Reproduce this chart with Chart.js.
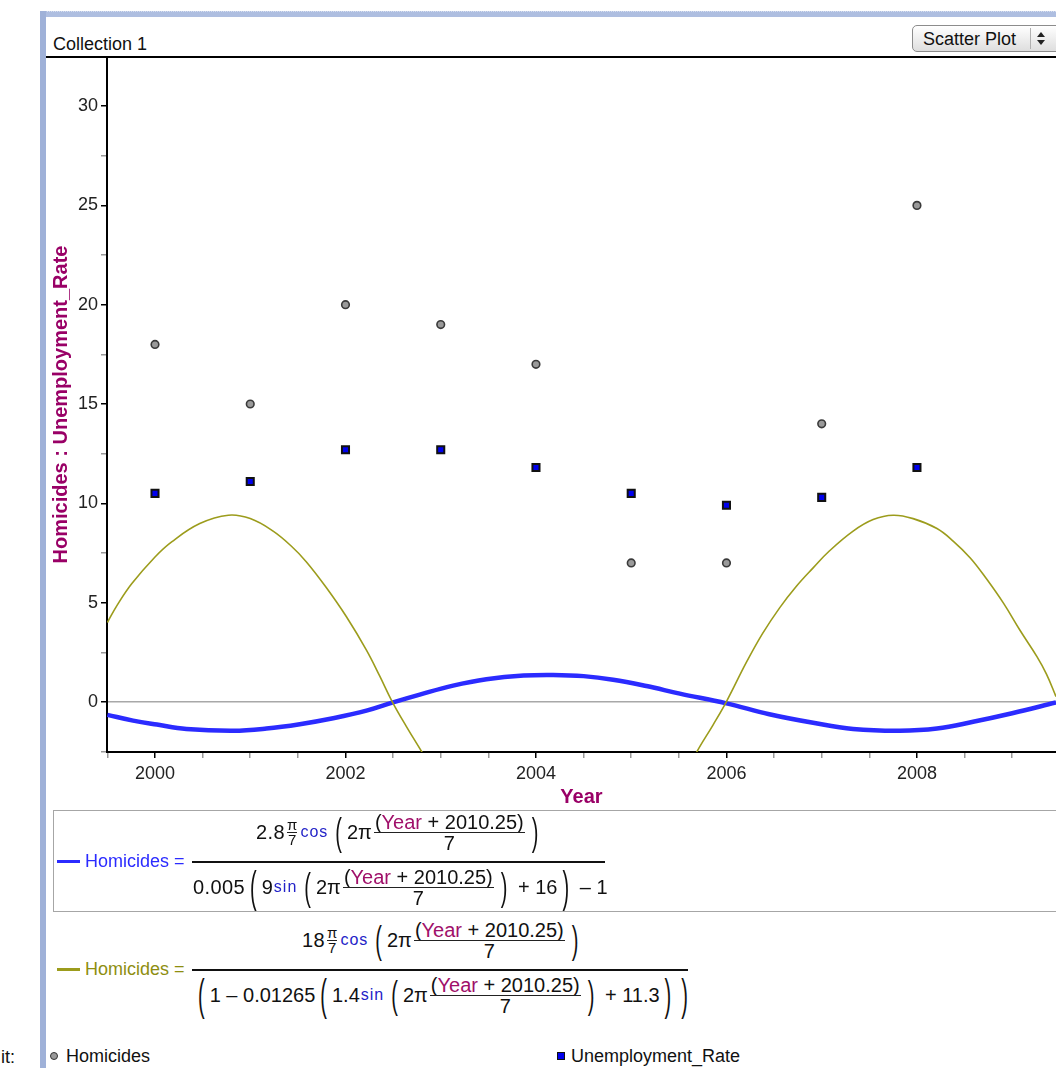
<!DOCTYPE html>
<html>
<head>
<meta charset="utf-8">
<script src="https://cdn.jsdelivr.net/npm/chart.js@4.4.1/dist/chart.umd.min.js"></script>
<style>
  body { margin:0; width:1056px; height:1068px; overflow:hidden; background:#fff;
         font-family:'Liberation Sans', Arial, sans-serif; color:#111; position:relative; }
  .abs { position:absolute; white-space:nowrap; }
  #bandTop { left:40px; top:11px; width:1016px; height:6px; background:#aebee0;
             border-top:1px dotted #d6def0; box-sizing:border-box; }
  #bandLeft { left:40px; top:11px; width:6px; height:1057px; background:#9fb1d8; }
  #title { left:53px; top:34px; font-size:18px; }
  #rule { left:46px; top:56px; width:1010px; height:2px; background:#000; }
  #menu { left:912px; top:25px; width:160px; height:27px; border:1px solid #8c8c8c; border-radius:5px;
          background:linear-gradient(#ffffff, #dedede); box-sizing:border-box; font-size:18px; }
  #menu .lbl { position:absolute; left:10px; top:3px; }
  #menu .sep { position:absolute; left:117px; top:2px; width:1px; height:21px; background:#b0b0b0; }
  #menu .up, #menu .dn { position:absolute; left:124px; width:0; height:0;
                         border-left:4px solid transparent; border-right:4px solid transparent; }
  #menu .up { top:6px; border-bottom:5px solid #222; }
  #menu .dn { top:14px; border-top:5px solid #222; }
  #wrap { left:46px; top:57px; width:1010px; height:760px; }
  #eqbox { left:53px; top:810px; width:1010px; height:102px; border:1px solid #a6a6a6; box-sizing:border-box; }
  .sw { position:absolute; width:23px; height:3px; }
  .lhs { font-size:18px; }
  .bar { position:absolute; height:1.5px; background:#111; }
  .row { position:absolute; display:flex; align-items:center; height:50px; font-size:20px; white-space:nowrap; }
  .num { letter-spacing:0.4px; }
  .f { display:inline-flex; flex-direction:column; align-items:stretch; margin:0 2px; }
  .f > span { display:block; text-align:center; line-height:20px; padding:0 1px; }
  .f > .b { border-top:1.5px solid #222; }
  .f.s { font-size:15px; margin:0 2px 0 2px; }
  .f.s > span { line-height:14px; padding:0; }
  .f.s > .b { border-top:1px solid #222; }
  .fn { color:#2323c8; font-size:16px; letter-spacing:1px; margin:0 2px 0 1px; }
  .yr { color:#a0106a; }
  .bp { display:inline-block; transform:scaleY(1.9); margin:0 5px; font-weight:300; }
  .bp.w { transform:scaleY(2.25); }
  .legend { font-size:18px; }
  .dot { position:absolute; width:6px; height:6px; border-radius:50%; background:#9a9a9a; border:1px solid #333; }
  .sq { position:absolute; width:6px; height:6px; background:#0000ee; border:1px solid #111; }
</style>
</head>
<body>
<div class="abs" id="bandTop"></div>
<div class="abs" id="bandLeft"></div>
<div class="abs" id="title">Collection 1</div>
<div class="abs" id="menu"><span class="lbl">Scatter Plot</span><span class="sep"></span><span class="up"></span><span class="dn"></span></div>
<div class="abs" id="rule"></div>
<div class="abs" id="wrap"><canvas id="chart" width="1010" height="760"></canvas></div>

<div class="abs" id="eqbox"></div>

<!-- equation 1 -->
<div class="sw" style="left:57px;top:860px;background:#2b2bff"></div>
<div class="abs lhs" style="left:85px;top:851px;color:#2b2bff">Homicides =</div>
<div class="bar" style="left:192px;top:861px;width:413px"></div>
<div class="row" style="left:256px;top:807px">
  <span class="num">2.8</span>
  <span class="f s"><span>π</span><span class="b">7</span></span>
  <span class="fn">cos</span>
  <span class="bp">(</span>2π<span class="f"><span>(<span class="yr">Year</span> + 2010.25)</span><span class="b">7</span></span><span class="bp">)</span>
</div>
<div class="row" style="left:193px;top:862px">
  <span class="num">0.005</span>
  <span class="bp w">(</span>9<span class="fn">sin</span>
  <span class="bp">(</span>2π<span class="f"><span>(<span class="yr">Year</span> + 2010.25)</span><span class="b">7</span></span><span class="bp">)</span>
  &nbsp;+ 16<span class="bp w">)</span>&nbsp;– 1
</div>

<!-- equation 2 -->
<div class="sw" style="left:57px;top:968px;background:#9c9c1c"></div>
<div class="abs lhs" style="left:85px;top:959px;color:#8e8e10">Homicides =</div>
<div class="bar" style="left:192px;top:969px;width:496px"></div>
<div class="row" style="left:302px;top:915px">
  <span class="num">18</span>
  <span class="f s"><span>π</span><span class="b">7</span></span>
  <span class="fn">cos</span>
  <span class="bp">(</span>2π<span class="f"><span>(<span class="yr">Year</span> + 2010.25)</span><span class="b">7</span></span><span class="bp">)</span>
</div>
<div class="row" style="left:193px;top:970px">
  <span class="bp w">(</span>1 – 0.01265<span class="bp w">(</span>1.4<span class="fn">sin</span>
  <span class="bp">(</span>2π<span class="f"><span>(<span class="yr">Year</span> + 2010.25)</span><span class="b">7</span></span><span class="bp">)</span>
  &nbsp;+ 11.3<span class="bp w">)</span><span class="bp w">)</span>
</div>

<!-- legend -->
<div class="dot" style="left:50px;top:1052px"></div>
<div class="abs legend" style="left:66px;top:1046px">Homicides</div>
<div class="sq" style="left:557px;top:1052px"></div>
<div class="abs legend" style="left:571px;top:1046px">Unemployment_Rate</div>
<div class="abs legend" style="left:1px;top:1047px">it:</div>

<script>
// values
const years = [2000, 2001, 2002, 2003, 2004, 2005, 2006, 2007, 2008];
const homicides = [18, 15, 20, 19, 17, 7, 7, 14, 25];
const unemploymentRate = [10.5, 11.1, 12.7, 12.7, 11.8, 10.5, 9.9, 10.3, 11.8];

// blue fitted curve (thick)
const blueYear = [1999.5, 1999.77, 2000.02, 2000.33, 2000.82, 2001.17, 2001.52, 2001.87, 2002.22, 2002.5,
                  2002.78, 2003.13, 2003.48, 2003.87, 2004.18, 2004.5, 2004.81, 2005.16, 2005.51, 2006.0,
                  2006.45, 2006.91, 2007.33, 2007.82, 2008.21, 2008.59, 2009.0, 2009.46];
const blueVal = [-0.65, -0.94, -1.14, -1.36, -1.45, -1.34, -1.12, -0.82, -0.44, -0.02,
                 0.37, 0.82, 1.14, 1.33, 1.36, 1.3, 1.12, 0.8, 0.42, -0.07,
                 -0.62, -1.05, -1.36, -1.45, -1.34, -1.0, -0.57, -0.03];

// olive fitted curve (thin), null = gap where it leaves the plot
const oliveYear = [1999.5, 1999.6, 1999.755, 2000.0, 2000.175, 2000.47, 2000.77, 2001.0, 2001.24, 2001.43,
                   2001.59, 2001.8, 2002.01, 2002.22, 2002.36, 2002.49, 2002.64, 2002.8, 2002.9, 2004.25,
                   2005.6, 2005.69, 2005.86, 2006.0, 2006.21, 2006.38, 2006.56, 2006.73, 2006.91, 2007.08,
                   2007.33, 2007.54, 2007.75, 2007.96, 2008.21, 2008.38, 2008.56, 2008.73, 2008.91, 2009.08,
                   2009.26, 2009.36, 2009.46];
const oliveVal = [4.0, 4.85, 5.95, 7.3, 8.06, 8.98, 9.4, 9.23, 8.6, 7.85,
                  7.05, 5.75, 4.29, 2.61, 1.3, 0.02, -1.24, -2.5, -3.3, null,
                  -3.4, -2.5, -1.15, 0.02, 2.0, 3.45, 4.75, 5.8, 6.75, 7.6,
                  8.6, 9.18, 9.4, 9.23, 8.73, 8.1, 7.25, 6.2, 4.96, 3.62,
                  2.28, 1.4, 0.27];

const xTicks = [1999.5, 2000, 2000.5, 2001, 2001.5, 2002, 2002.5, 2003, 2003.5, 2004,
                2004.5, 2005, 2005.5, 2006, 2006.5, 2007, 2007.5, 2008, 2008.5, 2009];
const xLabels = [2000, 2002, 2004, 2006, 2008];
const yTicks = [-2.5, 0, 2.5, 5, 7.5, 10, 12.5, 15, 17.5, 20, 22.5, 25, 27.5, 30];
const yLabels = [0, 5, 10, 15, 20, 25, 30];

const pts = (xs, ys) => xs.map((x, i) => ({ x, y: ys[i] }));
const purple = '#990066';

Chart.defaults.font.family = "'Liberation Sans', Arial, sans-serif";

new Chart(document.getElementById('chart'), {
  type: 'scatter',
  data: {
    datasets: [
      { label: 'Homicides', data: pts(years, homicides), pointStyle: 'circle', pointRadius: 3.8,
        backgroundColor: '#9a9a9a', borderColor: '#3a3a3a', borderWidth: 1.6, order: 0 },
      { label: 'Unemployment_Rate', data: pts(years, unemploymentRate), pointStyle: 'rect', pointRadius: 5,
        backgroundColor: '#0000ee', borderColor: '#111', borderWidth: 2, order: 0 },
      { label: 'olive', data: pts(oliveYear, oliveVal), showLine: true, pointRadius: 0, spanGaps: false,
        borderColor: '#9c9c1c', borderWidth: 1.6, tension: 0.4, order: 1 },
      { label: 'blue', data: pts(blueYear, blueVal), showLine: true, pointRadius: 0,
        borderColor: '#2b2bff', borderWidth: 4.5, tension: 0.4, order: 2 }
    ]
  },
  options: {
    responsive: false,
    animation: false,
    layout: { padding: 0, autoPadding: false },
    plugins: { legend: { display: false }, tooltip: { enabled: false } },
    scales: {
      x: {
        type: 'linear', min: 1999.496, max: 2009.46,
        afterBuildTicks: s => { s.ticks = xTicks.map(v => ({ value: v })); },
        afterFit: s => { s.height = 65; s.paddingLeft = 0; s.paddingRight = 0; },
        ticks: { callback: v => xLabels.includes(v) ? String(v) : '', color: '#222',
                 font: { size: 18 }, padding: 5, maxRotation: 0, autoSkip: false },
        grid: { color: 'rgba(0,0,0,0)', tickLength: 6, lineWidth: 1.5,
                tickColor: c => xLabels.includes(c.tick.value) ? '#000' : '#999' },
        border: { color: '#000', width: 2 },
        title: { display: true, text: 'Year', color: purple,
                 font: { size: 20, weight: 'bold' }, padding: { top: 0, bottom: 8 } }
      },
      y: {
        type: 'linear', min: -2.52, max: 32.47,
        afterBuildTicks: s => { s.ticks = yTicks.map(v => ({ value: v })); },
        afterFit: s => { s.width = 61; s.paddingTop = 0; s.paddingBottom = 0; },
        ticks: { callback: v => yLabels.includes(v) ? String(v) : '', color: '#222',
                 font: { size: 18 }, padding: 3, autoSkip: false },
        grid: { color: c => (c.tick && c.tick.value === 0) ? '#a8a8a8' : 'rgba(0,0,0,0)',
                lineWidth: 1.5, tickLength: 6,
                tickColor: c => yLabels.includes(c.tick.value) ? '#000' : '#999' },
        border: { color: '#000', width: 2 },
        title: { display: true, text: 'Homicides : Unemployment_Rate', color: purple,
                 font: { size: 20, weight: 'bold' }, padding: { top: 3, bottom: 0 } }
      }
    }
  }
});
</script>
</body>
</html>
